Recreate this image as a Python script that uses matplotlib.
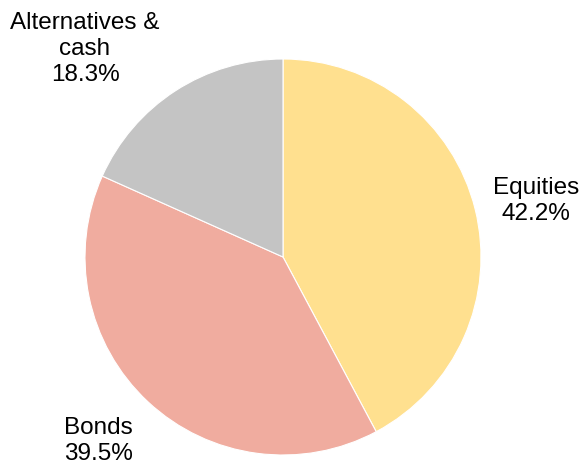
import numpy as np
import matplotlib
matplotlib.use("Agg")
import matplotlib.pyplot as plt

labels = ["Equities", "Bonds", "Alternatives &\ncash"]
shares = [42.2, 39.5, 18.3]
colors = ["#FFE08F", "#F0AC9F", "#C4C4C4"]

# label placement (angle in degrees, distance in radii)
label_pos = [(12.7, 1.31), (-135.3, 1.314), (133.45, 1.454)]

plt.rcParams['font.family'] = ['Liberation Sans', 'DejaVu Sans']

fig = plt.figure(figsize=(5.82, 4.64), dpi=100)
ax = fig.add_axes([0, 0, 1, 1])
ax.pie(shares, colors=colors, startangle=90, counterclock=False,
       radius=1.0, wedgeprops=dict(edgecolor='white', linewidth=0.8))

for lab, val, (ang, d) in zip(labels, shares, label_pos):
    a = np.deg2rad(ang)
    ax.text(d * np.cos(a), d * np.sin(a), lab + "\n" + f"{val:.1f}%",
            ha='center', va='center', fontsize=17.5, linespacing=1.22)

cx, cy, r = 283, 258, 198
ax.set_xlim(-cx / r, (582 - cx) / r)
ax.set_ylim(-(464 - cy) / r, cy / r)
ax.set_aspect('equal')
ax.axis('off')

plt.savefig("out.png", dpi=100)
